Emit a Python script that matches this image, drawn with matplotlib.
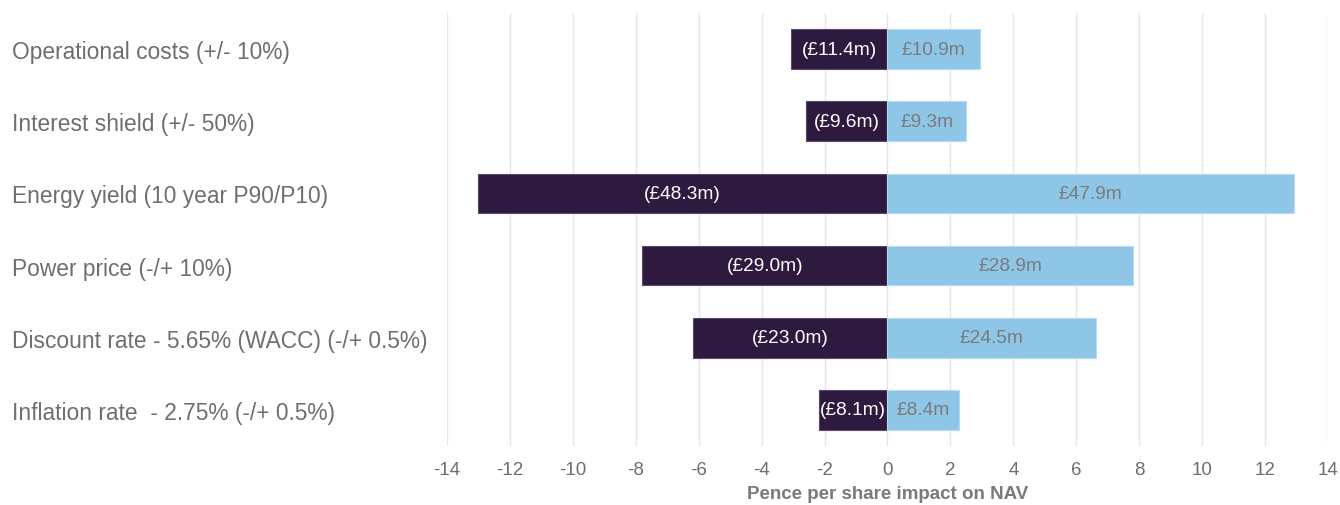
import matplotlib.pyplot as plt
import numpy as np

###########
# DATA
###########
categories = [
    "Operational costs (+/- 10%)",
    "Interest shield (+/- 50%)",
    "Energy yield (10 year P90/P10)",
    "Power price (-/+ 10%)",
    "Discount rate - 5.65% (WACC) (-/+ 0.5%)",
    "Inflation rate  - 2.75% (-/+ 0.5%)",
]
downside_pence = [-3.07, -2.58, -13.02, -7.8, -6.19, -2.18]
upside_pence = [2.94, 2.51, 12.92, 7.8, 6.63, 2.28]
downside_labels = ["(£11.4m)", "(£9.6m)", "(£48.3m)", "(£29.0m)", "(£23.0m)", "(£8.1m)"]
upside_labels = ["£10.9m", "£9.3m", "£47.9m", "£28.9m", "£24.5m", "£8.4m"]
x_ticks = list(range(-14, 15, 2))

###########
# STYLE
###########
colours = ["#2f1a3f", "#8ec6e8"]
edge_colours = ["#5a4a66", "#b5dbf2"]
text_grey = "#6e6e6e"
plt.rcParams['font.family'] = ['Liberation Sans', 'DejaVu Sans']

###########
# CREATING THE GRAPH
###########
fig = plt.figure(figsize=(13.4, 5.06), dpi=100)
ax = fig.add_axes([0.3336, 0.1166, 0.9910 - 0.3336, 0.9723 - 0.1166])

y = np.arange(len(categories))
bar_h = 0.55

dark = ax.barh(y, downside_pence, height=bar_h, color=colours[0],
               edgecolor=edge_colours[0], linewidth=0.8, zorder=2)
light = ax.barh(y, upside_pence, height=bar_h, color=colours[1],
                edgecolor=edge_colours[1], linewidth=0.8, zorder=2)

# Data labels, centred in each bar
for bar, lab in zip(dark, downside_labels):
    ax.text(bar.get_x() + bar.get_width() / 2, bar.get_y() + bar.get_height() / 2,
            lab, ha='center', va='center', color='white', fontsize=13.8, zorder=3)
for bar, lab in zip(light, upside_labels):
    ax.text(bar.get_x() + bar.get_width() / 2, bar.get_y() + bar.get_height() / 2,
            lab, ha='center', va='center', color='#7a7a7a', fontsize=13.8, zorder=3)

# Formatting
ax.set_xlim(-14, 14)
ax.set_ylim(len(categories) - 0.5, -0.5)
ax.set_xticks(x_ticks)
ax.set_xticklabels([str(t) for t in x_ticks], fontsize=13.5, color=text_grey,
                   family=['Liberation Sans Narrow', 'Liberation Sans'])
ax.set_yticks(y)
ax.set_yticklabels(categories, fontsize=16.4, color=text_grey, ha='left')
ax.tick_params(axis='y', length=0, pad=313)
ax.tick_params(axis='x', length=0, pad=11)

for side in ['top', 'right', 'bottom', 'left']:
    ax.spines[side].set_visible(False)

ax.set_axisbelow(True)
ax.grid(which='major', axis='x', color='#e6e6e6', linewidth=1.0, zorder=0)

ax.set_xlabel("Pence per share impact on NAV", fontsize=13.5, color='#7a7a7a',
              fontweight='bold', family=['Liberation Sans Narrow', 'Liberation Sans'],
              labelpad=5)

##########
# SAVING THE GRAPH
##########
plt.savefig("out.png", dpi=100)
plt.close(fig)
